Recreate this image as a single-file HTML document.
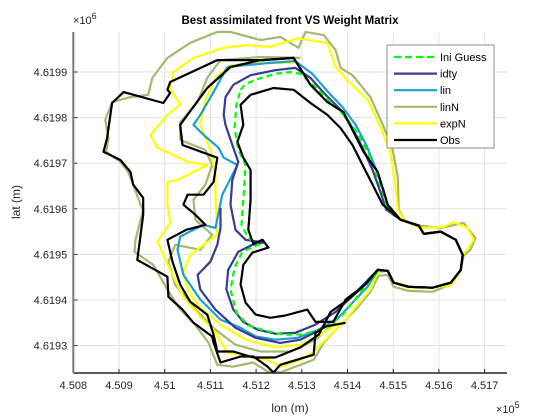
<!DOCTYPE html>
<html><head><meta charset="utf-8">
<style>
html,body{margin:0;padding:0;background:#fff;}
svg{display:block;font-family:"Liberation Sans",Arial,sans-serif;}
</style></head>
<body>
<svg id="chart" width="560" height="420" viewBox="0 0 560 420" xmlns="http://www.w3.org/2000/svg">
<rect x="0" y="0" width="560" height="420" fill="#fff"/>
<g id="grid"></g>
<g id="series"></g>
<g id="axes"></g>
<text x="290" y="24" text-anchor="middle" font-size="11.5" font-weight="bold" fill="#000">Best assimilated front VS Weight Matrix</text>
<text x="73" y="24" font-size="11" fill="#262626">×10<tspan dy="-5" font-size="9">6</tspan></text>
<text x="496" y="413" font-size="11" fill="#262626">×10<tspan dy="-5" font-size="9">5</tspan></text>
<text x="290" y="412" text-anchor="middle" font-size="12" fill="#262626">lon (m)</text>
<text x="20" y="202" text-anchor="middle" font-size="12" fill="#262626" transform="rotate(-90 20 202)">lat (m)</text>
<g id="legend"></g>
</svg>
<script>
// ---- data (offsets in metres from LON0 / LAT0) ----
const LON0 = 450000, LAT0 = 4619000;
const xTicks = [450800,450900,451000,451100,451200,451300,451400,451500,451600,451700];
const xTickLabels = ["4.508","4.509","4.51","4.511","4.512","4.513","4.514","4.515","4.516","4.517"];
const yTicks = [4619300,4619400,4619500,4619600,4619700,4619800,4619900];
const yTickLabels = ["4.6193","4.6194","4.6195","4.6196","4.6197","4.6198","4.6199"];
const seriesNames = ["Ini Guess","idty","lin","linN","expN","Obs"];

const iniLon = [1166,1177,1205,1242,1275,1297,1330,1363,1396,1422,1444,1461,1477,1488,1516,1556,1567,1604,1637,1652,1648,1626,1586,1534,1501,1488,1466,1439,1411,1385,1345,1297,1260,1220,1183,1157,1144,1153,1170,1205,1183,1168,1172,1177,1161,1153,1157,1166];
const iniLat = [861,874,885,896,900,896,867,834,801,766,725,681,637,598,576,563,545,550,532,499,466,438,427,429,438,464,462,429,394,363,335,324,324,333,344,372,423,471,506,521,536,565,620,696,729,777,828,861];

const idtyLonA = [1150,1188,1242,1286,1319,1352,1385,1411,1433,1455,1472,1485,1516,1556,1567,1604,1637,1652,1648,1626,1586,1534,1501,1488,1466,1439,1407,1374,1330,1286,1242,1203,1172,1150,1135,1139,1161,1192,1216,1177,1155,1144,1148,1161,1150,1133,1129,1133,1150];
const idtyLatA = [872,893,904,909,887,850,817,777,734,685,637,598,576,563,545,550,532,499,466,438,427,429,438,464,466,438,405,374,346,328,326,335,352,379,423,466,506,521,526,532,554,609,663,703,734,784,806,845,872];
const idtyLonB = [1122,1122,1115,1100,1072,1078,1111,1155,1199,1253,1297,1341];
const idtyLatB = [602,558,521,484,455,423,379,339,317,306,313,335];

const linLon = [1137,1177,1231,1286,1323,1356,1389,1418,1442,1461,1479,1490,1516,1556,1567,1604,1637,1652,1648,1626,1586,1534,1501,1488,1466,1444,1411,1380,1337,1291,1242,1199,1166,1122,1078,1041,1028,1034,1085,1111,1126,1159,1129,1118,1085,1063,1078,1107,1137];
const linLat = [911,915,920,924,896,858,823,784,738,690,641,598,576,563,545,550,532,499,466,438,427,429,438,464,466,429,394,361,335,317,313,320,339,357,401,455,510,539,565,558,631,696,712,734,762,784,806,856,911];

const linNLon = [1006,1056,1115,1144,1210,1253,1293,1308,1348,1374,1385,1411,1450,1479,1499,1510,1512,1527,1560,1604,1654,1680,1669,1654,1648,1626,1586,1534,1501,1488,1468,1450,1418,1385,1348,1326,1253,1225,1194,1150,1115,1096,1063,1034,1006,975,934,936,953,947,931,920,903,872,877,870,885,925,964,973,1006];
const linNLat = [931,964,988,988,970,977,953,988,981,948,909,893,845,780,729,670,598,572,563,558,569,536,510,497,466,434,418,420,429,455,453,418,379,346,306,269,241,243,263,254,258,306,350,379,423,477,506,532,598,609,653,681,703,725,755,795,834,845,850,887,931];
const linNLonB = [1297,1210,1122,1093,1072,1034,1034,1089,1104,1089,1063,1067,1104,1078,1023,1008,1023,1067,1111,1155,1210,1275,1330,1374];
const linNLatB = [931,933,926,887,834,790,751,729,696,653,620,576,543,510,521,484,434,379,335,302,287,287,313,352];

const expNLon = [1063,1129,1181,1231,1291,1356,1374,1400,1444,1472,1494,1505,1510,1527,1560,1610,1632,1663,1676,1665,1652,1648,1626,1586,1534,1501,1488,1466,1450,1422,1396,1363,1326,1297,1253,1225,1181,1137,1107,1078,1041,1012,984,1012,1006,1006,1028,1093,1050,984,969,1006,1034,1012,1019,1063];
const expNLat = [931,953,959,955,974,964,911,882,839,780,723,648,598,572,558,560,571,558,532,515,499,466,432,427,427,438,464,462,423,390,357,324,287,269,254,269,276,285,335,363,407,466,528,569,609,659,663,696,703,734,762,806,828,865,900,931];
const expNLonB = [1282,1210,1144,1111,1089,1078,1100,1111,1111,1115,1056,1041,1052,1078,1122,1177,1242,1297,1341,1385];
const expNLatB = [920,920,915,887,839,784,729,674,631,543,499,462,418,383,346,313,296,302,324,352];

const obs1Lon = [1188,1238,1282,1319,1356,1385,1411,1433,1455,1477,1516,1556,1567,1604,1637,1652,1648,1626,1586,1534,1501,1488,1466,1439,1396,1369,1330,1312,1264,1231,1199,1177,1166,1172,1192,1227,1214,1194,1183,1188,1188,1172,1159,1172,1166,1188];
const obs1Lat = [850,865,861,832,806,777,740,696,653,609,576,563,545,550,532,499,466,438,427,429,438,464,466,434,401,352,352,379,366,361,368,394,434,477,504,515,532,523,554,620,685,712,747,784,828,850];
const obs2Lon = [1144,1210,1282,1319,1356,1391,1413,1435,1466,1488,1516,1556,1567,1604,1637,1652,1648,1626,1586,1534,1501,1488,1466,1439,1407,1363,1337,1297,1242,1194,1150,1115,1107,1093,1056,1034,1017,1006,1047,1089,1067,1041,1050,1085,1107,1115,1039,1034,1093,1144];
const obs2Lat = [911,926,931,872,834,812,769,725,681,609,576,563,545,550,532,499,466,438,427,429,438,464,466,434,405,374,324,296,274,274,287,287,324,368,396,434,484,532,554,565,587,609,631,631,659,712,740,784,865,911];
const obs3Lon = [1396,1352,1330,1326,1253,1238,1225,1194,1166,1122,1107,1104,1063,1039,1008,1006,940,953,953,931,925,903,866,874,885,910,997,1012,1006,1012,1115,1216,1282,1319];
const obs3Lat = [350,342,328,280,258,241,254,276,276,263,306,320,350,379,407,451,488,587,624,653,681,707,725,755,832,856,832,854,861,878,926,926,931,872];

// ---- scales ----
const plot = {l:73.3, r:507, t:32, b:373};
function xs(lon){ return plot.l + (lon - 450800) * 0.457; }
function ys(lat){ return 72 + (4619900 - lat) * 0.456; }

const NS = "http://www.w3.org/2000/svg";
function mk(tag, attrs, parent){
  const e = document.createElementNS(NS, tag);
  for (const k in attrs) e.setAttribute(k, attrs[k]);
  parent.appendChild(e);
  return e;
}
const grid = document.getElementById('grid');
const axes = document.getElementById('axes');
const layer = document.getElementById('series');

xTicks.forEach((v,i)=>{
  const x = xs(v);
  const gl = mk('line',{x1:x,x2:x,y1:plot.t,y2:plot.b,stroke:'#e3e3e3','stroke-width':1},grid);
  
  
  const tk = mk('line',{x1:x,x2:x,y1:plot.b,y2:plot.b-4,stroke:'#262626','stroke-width':1},axes);
  
  
  const t = mk('text',{x:x,y:plot.b+16,'text-anchor':'middle','font-size':11,fill:'#262626'},axes);
  t.textContent = xTickLabels[i];
  
  
});
yTicks.forEach((v,i)=>{
  const y = ys(v);
  const gl = mk('line',{x1:plot.l,x2:plot.r,y1:y,y2:y,stroke:'#e3e3e3','stroke-width':1},grid);
  
  
  const tk = mk('line',{x1:plot.l,x2:plot.l+4,y1:y,y2:y,stroke:'#262626','stroke-width':1},axes);
  
  
  const t = mk('text',{x:plot.l-6,y:y+4,'text-anchor':'end','font-size':11,fill:'#262626'},axes);
  t.textContent = yTickLabels[i];
  
  
});
const xa = mk('line',{x1:plot.l,x2:plot.r,y1:plot.b,y2:plot.b,stroke:'#262626','stroke-width':1.5},axes);


const ya = mk('line',{x1:plot.l,x2:plot.l,y1:plot.t,y2:plot.b,stroke:'#7a7a7a','stroke-width':2},axes);



function drawLine(lons, lats, color, dash, name){
  const pts = lons.map((v,i)=> xs(LON0+v).toFixed(1)+','+ys(LAT0+lats[i]).toFixed(1)).join(' ');
  const p = mk('polyline',{points:pts,fill:'none',stroke:color,'stroke-width':2.2,'stroke-linejoin':'round'},layer);
  if (dash) p.setAttribute('stroke-dasharray', dash);
  
  
}
const C = {ini:'#00ff00', idty:'#3b3a90', lin:'#1a9fd4', linN:'#a2b96e', expN:'#ffff00', obs:'#000000'};
drawLine(linNLon, linNLat, C.linN, null, 'linN-front-outer');
drawLine(linNLonB, linNLatB, C.linN, null, 'linN-front-inner');
drawLine(expNLon, expNLat, C.expN, null, 'expN-front-outer');
drawLine(expNLonB, expNLatB, C.expN, null, 'expN-front-inner');
drawLine(linLon, linLat, C.lin, null, 'lin-front');
drawLine(idtyLonB, idtyLatB, C.idty, null, 'idty-front-outer');
drawLine(idtyLonA, idtyLatA, C.idty, null, 'idty-front');
drawLine(iniLon, iniLat, C.ini, '6,4', 'ini-guess-front');
drawLine(obs1Lon, obs1Lat, C.obs, null, 'obs-front-inner');
drawLine(obs2Lon, obs2Lat, C.obs, null, 'obs-front-middle');
drawLine(obs3Lon, obs3Lat, C.obs, null, 'obs-front-outer');

// legend
const lg = document.getElementById('legend');
const box = mk('rect',{x:387,y:45,width:107,height:103,fill:'#fff',stroke:'#8c8c8c','stroke-width':1},lg);


const legColors = [C.ini,C.idty,C.lin,C.linN,C.expN,C.obs];
seriesNames.forEach((n,i)=>{
  const y = 57 + i*16.6;
  const l = mk('line',{x1:394,x2:437,y1:y,y2:y,stroke:legColors[i],'stroke-width':2.2},lg);
  if (i===0) l.setAttribute('stroke-dasharray','7,4');
  
  
  const t = mk('text',{x:440,y:y+4,'font-size':11,fill:'#000'},lg);
  t.textContent = n;
  
  
});
</script>
</body></html>
